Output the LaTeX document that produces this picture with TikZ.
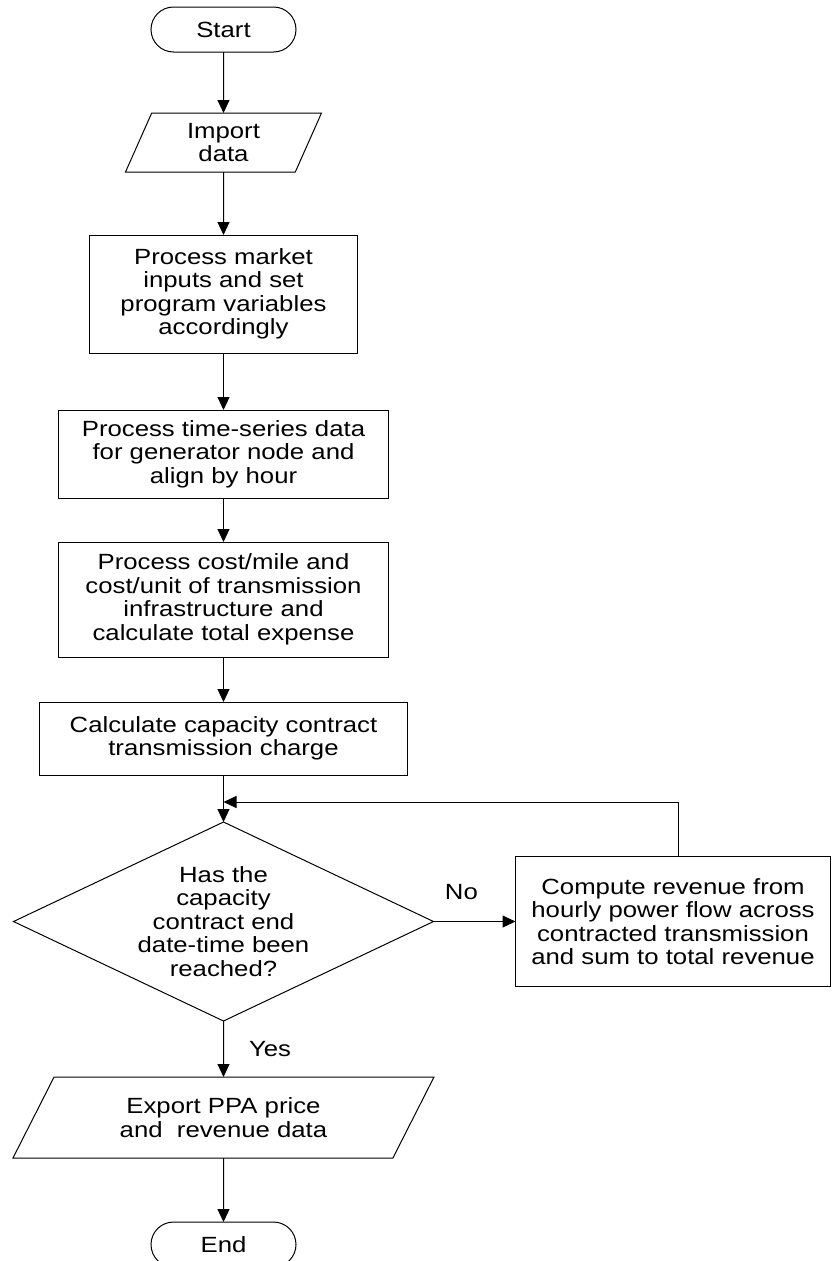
\documentclass[tikz,border=0pt]{standalone}
\usepackage{fontspec}
\setmainfont{Liberation Sans}[FakeStretch=1.17]
\usetikzlibrary{positioning}
\usetikzlibrary{shapes.geometric, shapes.misc}
\usetikzlibrary{arrows.meta}

\begin{document}
\begin{tikzpicture}[x=1pt, y=-1pt,
                font=\fontsize{22}{23.5}\selectfont,
                termnode/.style={rounded rectangle, draw, line width=1pt, minimum width=145pt, minimum height=45pt, inner sep=0pt, outer sep=0pt},
                ionode/.style={trapezium, draw, line width=1pt, align=center, inner sep=0pt, outer sep=0pt, trapezium stretches body},
                boxnode/.style={rectangle, draw, line width=1pt, align=center, inner sep=0pt, outer sep=0pt},
                decnode/.style={diamond, draw, line width=1pt, align=center, inner sep=0pt, outer sep=0pt, shape aspect=2.1, minimum width=420pt, minimum height=199pt},
                flow/.style={-{Triangle[width=12pt, length=13pt]}, line width=1pt},
                ]
                \useasboundingbox (0,0) rectangle (831,1261);

                \node[termnode] (start) at (223.5,29.5) {Start};
                \node[ionode, trapezium left angle=56, trapezium right angle=124, minimum width=196pt, minimum height=59pt, below=61pt of start] (import) {Import\\data};
                \node[boxnode, minimum width=268pt, minimum height=118pt, below=63pt of import] (market) {Process market\\inputs and set\\program variables\\accordingly};
                \node[boxnode, minimum width=330pt, minimum height=88pt, below=57pt of market] (series) {Process time-series data\\for generator node and\\align by hour};
                \node[boxnode, minimum width=330pt, minimum height=115pt, below=44pt of series] (cost) {Process cost/mile and\\cost/unit of transmission\\infrastructure and\\calculate total expense};
                \node[boxnode, minimum width=368pt, minimum height=73pt, below=45pt of cost] (charge) {Calculate capacity contract\\transmission charge};
                \node[decnode, below=47pt of charge] (reached) {Has the\\capacity\\contract end\\date-time been\\reached?};
                \node[boxnode, minimum width=315pt, minimum height=130pt, right=82pt of reached] (revenue) {Compute revenue from\\hourly power flow across\\contracted transmission\\and sum to total revenue};
                \node[ionode, trapezium left angle=44, trapezium right angle=136, minimum width=421pt, minimum height=81pt, below=56pt of reached] (export) {Export PPA price\\and~~revenue data};
                \node[termnode, below=64pt of export] (end) {End};

                \coordinate[above=20pt of reached.north] (loop);

                \draw[flow] (start) -- (import);
                \draw[flow] (import) -- (market);
                \draw[flow] (market) -- (series);
                \draw[flow] (series) -- (cost);
                \draw[flow] (cost) -- (charge);
                \draw[flow] (charge) -- (reached);
                \draw[flow] (reached) -- node[pos=0.34, above=21pt, inner sep=0pt] (no) {No} (revenue);
                \draw[flow] ([xshift=5.5pt]revenue.north) |- (loop);
                \draw[flow] (reached) -- node[midway, right=25pt, inner sep=0pt] (yes) {Yes} (export);
                \draw[flow] (export) -- (end);
            \end{tikzpicture}
\end{document}
